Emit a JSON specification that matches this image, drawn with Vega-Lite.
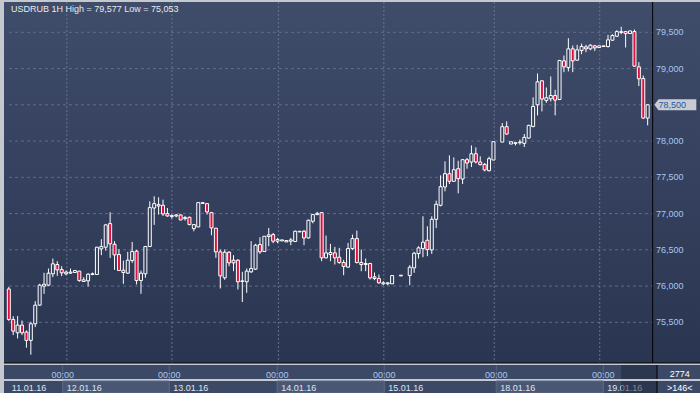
{
"$schema":"https://vega.github.io/schema/vega-lite/v6.json",
"background":"#c4c9d0",
"padding":{"left":3,"top":1,"right":0,"bottom":5},
"config":{"view":{"stroke":null},"font":"Liberation Sans","text":{"font":"Liberation Sans"}},
"datasets":{
"candles":[
{"k":0,"open":75960,"high":75990,"low":75520,"close":75540},
{"k":1,"open":75540,"high":75586,"low":75324,"close":75379},
{"k":2,"open":75356,"high":75586,"low":75278,"close":75462},
{"k":3,"open":75462,"high":75526,"low":75324,"close":75356},
{"k":4,"open":75366,"high":75389,"low":75150,"close":75251},
{"k":5,"open":75251,"high":75508,"low":75053,"close":75480},
{"k":6,"open":75480,"high":75792,"low":75434,"close":75737},
{"k":7,"open":75737,"high":76031,"low":75728,"close":76013},
{"k":8,"open":75999,"high":76183,"low":75893,"close":76026},
{"k":9,"open":76013,"high":76242,"low":75999,"close":76178},
{"k":10,"open":76169,"high":76380,"low":76123,"close":76307},
{"k":11,"open":76297,"high":76343,"low":76141,"close":76224},
{"k":12,"open":76228,"high":76274,"low":76137,"close":76183},
{"k":13,"open":76169,"high":76215,"low":76150,"close":76192},
{"k":14,"open":76178,"high":76242,"low":76169,"close":76192},
{"k":15,"open":76187,"high":76215,"low":76187,"close":76215},
{"k":16,"open":76206,"high":76206,"low":76059,"close":76077},
{"k":17,"open":76063,"high":76123,"low":76059,"close":76086},
{"k":18,"open":76072,"high":76178,"low":75994,"close":76164},
{"k":19,"open":76160,"high":76187,"low":76150,"close":76169},
{"k":20,"open":76160,"high":76540,"low":76155,"close":76536},
{"k":21,"open":76513,"high":76646,"low":76426,"close":76545},
{"k":22,"open":76536,"high":76857,"low":76490,"close":76844},
{"k":23,"open":76862,"high":77018,"low":76389,"close":76582},
{"k":24,"open":76577,"high":76619,"low":76224,"close":76430},
{"k":25,"open":76435,"high":76508,"low":76206,"close":76215},
{"k":26,"open":76219,"high":76352,"low":76031,"close":76187},
{"k":27,"open":76178,"high":76472,"low":76169,"close":76357},
{"k":28,"open":76352,"high":76609,"low":76320,"close":76476},
{"k":29,"open":76481,"high":76499,"low":76022,"close":76077},
{"k":30,"open":76077,"high":76215,"low":75893,"close":76178},
{"k":31,"open":76169,"high":76554,"low":76114,"close":76545},
{"k":32,"open":76545,"high":77169,"low":76540,"close":77082},
{"k":33,"open":77077,"high":77238,"low":76844,"close":77137},
{"k":34,"open":77105,"high":77224,"low":76986,"close":77123},
{"k":35,"open":77114,"high":77192,"low":76967,"close":76995},
{"k":36,"open":77000,"high":77077,"low":76958,"close":76967},
{"k":37,"open":76958,"high":76986,"low":76931,"close":76972},
{"k":38,"open":76967,"high":76995,"low":76949,"close":76981},
{"k":39,"open":76981,"high":76990,"low":76908,"close":76912},
{"k":40,"open":76931,"high":76967,"low":76903,"close":76944},
{"k":41,"open":76949,"high":76958,"low":76839,"close":76848},
{"k":42,"open":76793,"high":76857,"low":76756,"close":76848},
{"k":43,"open":76816,"high":77155,"low":76812,"close":77151},
{"k":44,"open":77140,"high":77151,"low":77140,"close":77151},
{"k":45,"open":77137,"high":77140,"low":76986,"close":77023},
{"k":46,"open":77013,"high":77018,"low":76701,"close":76802},
{"k":47,"open":76798,"high":76802,"low":76389,"close":76472},
{"k":48,"open":76472,"high":76504,"low":75967,"close":76141},
{"k":49,"open":76114,"high":76504,"low":76086,"close":76467},
{"k":50,"open":76467,"high":76481,"low":76274,"close":76320},
{"k":51,"open":76357,"high":76426,"low":76206,"close":76320},
{"k":52,"open":76357,"high":76371,"low":75953,"close":76059},
{"k":53,"open":76063,"high":76196,"low":75780,"close":76072},
{"k":54,"open":76059,"high":76242,"low":75907,"close":76206},
{"k":55,"open":76196,"high":76619,"low":76183,"close":76242},
{"k":56,"open":76233,"high":76582,"low":76224,"close":76564},
{"k":57,"open":76573,"high":76674,"low":76444,"close":76472},
{"k":58,"open":76476,"high":76690,"low":76472,"close":76687},
{"k":59,"open":76683,"high":76802,"low":76550,"close":76706},
{"k":60,"open":76710,"high":76733,"low":76591,"close":76619},
{"k":61,"open":76619,"high":76664,"low":76591,"close":76642},
{"k":62,"open":76623,"high":76637,"low":76623,"close":76637},
{"k":63,"open":76609,"high":76628,"low":76609,"close":76628},
{"k":64,"open":76619,"high":76664,"low":76564,"close":76637},
{"k":65,"open":76614,"high":76765,"low":76609,"close":76756},
{"k":66,"open":76747,"high":76756,"low":76747,"close":76756},
{"k":67,"open":76756,"high":76775,"low":76564,"close":76664},
{"k":68,"open":76664,"high":76917,"low":76655,"close":76908},
{"k":69,"open":76894,"high":76995,"low":76866,"close":76986},
{"k":70,"open":76986,"high":77023,"low":76977,"close":77004},
{"k":71,"open":77013,"high":77018,"low":76343,"close":76389},
{"k":72,"open":76389,"high":76697,"low":76380,"close":76458},
{"k":73,"open":76435,"high":76582,"low":76343,"close":76463},
{"k":74,"open":76458,"high":76541,"low":76297,"close":76389},
{"k":75,"open":76398,"high":76527,"low":76307,"close":76325},
{"k":76,"open":76325,"high":76362,"low":76150,"close":76270},
{"k":77,"open":76261,"high":76596,"low":76251,"close":76518},
{"k":78,"open":76518,"high":76710,"low":76499,"close":76655},
{"k":79,"open":76655,"high":76765,"low":76311,"close":76325},
{"k":80,"open":76325,"high":76504,"low":76205,"close":76297},
{"k":81,"open":76297,"high":76380,"low":76205,"close":76311},
{"k":82,"open":76311,"high":76320,"low":76090,"close":76113},
{"k":83,"open":76127,"high":76187,"low":76081,"close":76104},
{"k":84,"open":76104,"high":76159,"low":76031,"close":76045},
{"k":85,"open":76031,"high":76068,"low":76012,"close":76045},
{"k":86,"open":76031,"high":76054,"low":76012,"close":76045},
{"k":87,"open":76031,"high":76150,"low":76031,"close":76145},
{"k":89,"open":76140,"high":76150,"low":76140,"close":76150},
{"k":91,"open":76145,"high":76288,"low":76012,"close":76260},
{"k":92,"open":76251,"high":76471,"low":76182,"close":76453},
{"k":93,"open":76448,"high":76550,"low":76380,"close":76527},
{"k":94,"open":76517,"high":76963,"low":76398,"close":76605},
{"k":95,"open":76632,"high":76825,"low":76412,"close":76504},
{"k":96,"open":76499,"high":76963,"low":76444,"close":76921},
{"k":97,"open":76921,"high":77178,"low":76802,"close":77128},
{"k":98,"open":77114,"high":77527,"low":77100,"close":77371},
{"k":99,"open":77367,"high":77720,"low":77307,"close":77550},
{"k":100,"open":77550,"high":77803,"low":77408,"close":77445},
{"k":101,"open":77445,"high":77775,"low":77440,"close":77605},
{"k":102,"open":77619,"high":77729,"low":77279,"close":77481},
{"k":103,"open":77477,"high":77752,"low":77408,"close":77743},
{"k":104,"open":77743,"high":77766,"low":77619,"close":77697},
{"k":105,"open":77711,"high":77940,"low":77642,"close":77825},
{"k":106,"open":77825,"high":77913,"low":77692,"close":77711},
{"k":107,"open":77711,"high":77789,"low":77665,"close":77674},
{"k":108,"open":77679,"high":77697,"low":77582,"close":77601},
{"k":109,"open":77591,"high":77784,"low":77582,"close":77757},
{"k":110,"open":77738,"high":77995,"low":77738,"close":77991},
{"k":112,"open":77986,"high":78248,"low":77986,"close":78198},
{"k":113,"open":78198,"high":78271,"low":78087,"close":78097},
{"k":114,"open":77959,"high":77991,"low":77959,"close":77991},
{"k":115,"open":77968,"high":77977,"low":77940,"close":77977},
{"k":116,"open":77977,"high":78019,"low":77950,"close":77986},
{"k":117,"open":77968,"high":78097,"low":77918,"close":78051},
{"k":118,"open":78041,"high":78225,"low":78032,"close":78216},
{"k":119,"open":78202,"high":78602,"low":78188,"close":78478},
{"k":120,"open":78500,"high":78932,"low":78354,"close":78817},
{"k":121,"open":78831,"high":78840,"low":78409,"close":78579},
{"k":122,"open":78560,"high":78739,"low":78528,"close":78597},
{"k":123,"open":78583,"high":78891,"low":78546,"close":78629},
{"k":124,"open":78629,"high":78707,"low":78354,"close":78565},
{"k":125,"open":78574,"high":79120,"low":78565,"close":79111},
{"k":126,"open":79106,"high":79180,"low":78950,"close":79024},
{"k":127,"open":79015,"high":79419,"low":78960,"close":79272},
{"k":128,"open":79272,"high":79318,"low":78950,"close":79106},
{"k":129,"open":79116,"high":79327,"low":79106,"close":79258},
{"k":130,"open":79249,"high":79345,"low":79198,"close":79304},
{"k":131,"open":79299,"high":79327,"low":79226,"close":79272},
{"k":132,"open":79272,"high":79336,"low":79253,"close":79322},
{"k":133,"open":79313,"high":79327,"low":79244,"close":79285},
{"k":134,"open":79290,"high":79318,"low":79285,"close":79313},
{"k":135,"open":79304,"high":79313,"low":79304,"close":79313},
{"k":136,"open":79304,"high":79464,"low":79290,"close":79396},
{"k":137,"open":79391,"high":79474,"low":79382,"close":79455},
{"k":138,"open":79446,"high":79529,"low":79437,"close":79510},
{"k":139,"open":79497,"high":79577,"low":79474,"close":79510},
{"k":140,"open":79510,"high":79510,"low":79290,"close":79483},
{"k":141,"open":79483,"high":79524,"low":79478,"close":79519},
{"k":142,"open":79510,"high":79538,"low":79024,"close":79033},
{"k":143,"open":79024,"high":79088,"low":78758,"close":78859},
{"k":144,"open":78863,"high":78904,"low":78308,"close":78317},
{"k":145,"open":78317,"high":78510,"low":78216,"close":78500}
],
"levels":[{"price":75500},{"price":76000},{"price":76500},{"price":77000},{"price":77500},{"price":78000},{"price":78500},{"price":79000},{"price":79500}],
"days":[
{"day":"11.01.16","start":0.9,"end":13.18,"shade":false},
{"day":"12.01.16","start":13.18,"end":37.02,"shade":true},
{"day":"13.01.16","start":37.02,"end":61.19,"shade":false},
{"day":"14.01.16","start":61.19,"end":85.12,"shade":true},
{"day":"15.01.16","start":85.12,"end":110.18,"shade":false},
{"day":"18.01.16","start":110.18,"end":134.12,"shade":true},
{"day":"19.01.16","start":134.12,"end":146.13,"shade":false}
],
"corner":[{"caption":"USDRUB 1H High = 79,577 Low = 75,053","bars":"2774","visible":">146<"}]
},
"spacing":0,
"vconcat":[
{
"width":697,"height":361,
"view":{"fill":{"gradient":"linear","x1":0,"y1":0,"x2":0,"y2":1,"stops":[{"offset":0,"color":"#3f4c6a"},{"offset":1,"color":"#2a3551"}]},"stroke":null},
"layer":[
{"data":{"name":"levels"},"mark":{"type":"rule","color":"#5e6d8b","strokeDash":[3,3],"strokeWidth":1},
"encoding":{
"y":{"field":"price","type":"quantitative","scale":{"domain":[74939,79918],"nice":false,"zero":false},"axis":null},
"x":{"datum":0.0447,"type":"quantitative","scale":{"domain":[0.0447,155.97],"nice":false,"zero":false},"axis":null},
"x2":{"datum":146.13}}},
{"data":{"name":"days"},"transform":[{"filter":"datum.start > 1"}],"mark":{"type":"rule","color":"#64738f","strokeDash":[2,2],"strokeWidth":1},
"encoding":{"x":{"field":"start","type":"quantitative","scale":{"domain":[0.0447,155.97],"nice":false,"zero":false},"axis":null}}},
{"data":{"name":"candles"},"mark":{"type":"rule","color":"#ffffff","strokeWidth":1,"clip":true},
"encoding":{
"x":{"field":"k","type":"quantitative","scale":{"domain":[0.0447,155.97],"nice":false,"zero":false},"axis":null},
"y":{"field":"low","type":"quantitative","scale":{"domain":[74939,79918],"nice":false,"zero":false},"axis":null},
"y2":{"field":"high"}}},
{"data":{"name":"candles"},"mark":{"type":"bar","orient":"vertical","width":3,"stroke":"#ffffff","strokeWidth":1,"clip":true},
"encoding":{
"x":{"field":"k","type":"quantitative","scale":{"domain":[0.0447,155.97],"nice":false,"zero":false},"axis":null},
"y":{"field":"open","type":"quantitative","scale":{"domain":[74939,79918],"nice":false,"zero":false},"axis":null},
"y2":{"field":"close"},
"fill":{"condition":{"test":"datum.close < datum.open","value":"#e0103c"},"value":"#333f5c"}}},
{"data":{"name":"corner"},"mark":{"type":"rule","color":"#000000","strokeWidth":1},
"encoding":{"x":{"datum":146.13,"type":"quantitative","scale":{"domain":[0.0447,155.97],"nice":false,"zero":false},"axis":null}}},
{"data":{"name":"corner"},"mark":{"type":"rule","color":"#000000","strokeWidth":1},
"encoding":{"y":{"datum":74939,"type":"quantitative","scale":{"domain":[74939,79918],"nice":false,"zero":false},"axis":null}}},
{"data":{"name":"levels"},"transform":[{"filter":"datum.price != 78500"}],"mark":{"type":"text","align":"left","baseline":"middle","fontSize":9,"color":"#a9c6f0"},
"encoding":{
"x":{"datum":146.87,"type":"quantitative","scale":{"domain":[0.0447,155.97],"nice":false,"zero":false},"axis":null},
"y":{"field":"price","type":"quantitative","scale":{"domain":[74939,79918],"nice":false,"zero":false},"axis":null},
"text":{"field":"price","type":"quantitative","format":",d"}}},
{"data":{"name":"candles"},"transform":[{"filter":"datum.k == 145"}],
"mark":{"type":"point","shape":"M -1 0 L -0.8 -0.262 L 1 -0.262 L 1 0.262 L -0.8 0.262 Z","size":1764,"filled":true,"color":"#c8ccd2","opacity":1,"strokeWidth":0},
"encoding":{
"x":{"datum":151.28,"type":"quantitative","scale":{"domain":[0.0447,155.97],"nice":false,"zero":false},"axis":null},
"y":{"field":"close","type":"quantitative","scale":{"domain":[74939,79918],"nice":false,"zero":false},"axis":null}}},
{"data":{"name":"candles"},"transform":[{"filter":"datum.k == 145"}],
"mark":{"type":"text","align":"center","baseline":"middle","fontSize":9,"color":"#2556a6"},
"encoding":{
"x":{"datum":150.6,"type":"quantitative","scale":{"domain":[0.0447,155.97],"nice":false,"zero":false},"axis":null},
"y":{"field":"close","type":"quantitative","scale":{"domain":[74939,79918],"nice":false,"zero":false},"axis":null},
"text":{"field":"close","type":"quantitative","format":",d"}}},
{"data":{"name":"corner"},"mark":{"type":"text","align":"left","baseline":"alphabetic","dx":2,"dy":10,"fontSize":9,"color":"#e6ebf2"},
"encoding":{
"x":{"datum":0.0447,"type":"quantitative","scale":{"domain":[0.0447,155.97],"nice":false,"zero":false},"axis":null},
"y":{"datum":79918,"type":"quantitative","scale":{"domain":[74939,79918],"nice":false,"zero":false},"axis":null},
"text":{"field":"caption"}}}
]
},
{
"width":697,"height":14,
"view":{"fill":"#3c4966","stroke":null},
"layer":[
{"data":{"name":"days"},"transform":[{"filter":"datum.start > 1"}],"mark":{"type":"rule","color":"#56647f","strokeWidth":1},
"encoding":{"x":{"field":"start","type":"quantitative","scale":{"domain":[0.0447,155.97],"nice":false,"zero":false},"axis":null}}},
{"data":{"name":"days"},"transform":[{"filter":"datum.start > 1"}],"mark":{"type":"text","align":"center","baseline":"alphabetic","dy":5.5,"fontSize":9,"color":"#a9c6f0"},
"encoding":{"x":{"field":"start","type":"quantitative","scale":{"domain":[0.0447,155.97],"nice":false,"zero":false},"axis":null},"text":{"value":"00:00"}}},
{"data":{"name":"corner"},"mark":{"type":"rect","color":"#1c2438","opacity":0.5},
"encoding":{"x":{"datum":138.1,"type":"quantitative","scale":{"domain":[0.0447,155.97],"nice":false,"zero":false},"axis":null},"x2":{"datum":146.13}}},
{"data":{"name":"corner"},"mark":{"type":"text","align":"center","baseline":"alphabetic","dy":4.5,"fontSize":9,"color":"#ffffff"},
"encoding":{"x":{"datum":151.2,"type":"quantitative","scale":{"domain":[0.0447,155.97],"nice":false,"zero":false},"axis":null},"text":{"field":"bars"}}},
{"data":{"name":"corner"},"mark":{"type":"rule","color":"#000000","strokeWidth":1},
"encoding":{"x":{"datum":146.13,"type":"quantitative","scale":{"domain":[0.0447,155.97],"nice":false,"zero":false},"axis":null}}}
]
},
{
"width":697,"height":12,
"view":{"fill":"#3c4966","stroke":null},
"layer":[
{"data":{"name":"days"},"transform":[{"filter":"datum.shade"}],"mark":{"type":"rect","color":"#4a5774","stroke":"#5b6986","strokeWidth":1},
"encoding":{"x":{"field":"start","type":"quantitative","scale":{"domain":[0.0447,155.97],"nice":false,"zero":false},"axis":null},"x2":{"field":"end"}}},
{"data":{"name":"days"},"transform":[{"filter":"datum.start > 1"}],"mark":{"type":"rule","color":"#56647f","strokeWidth":1},
"encoding":{"x":{"field":"start","type":"quantitative","scale":{"domain":[0.0447,155.97],"nice":false,"zero":false},"axis":null}}},
{"data":{"name":"days"},"mark":{"type":"text","align":"left","baseline":"alphabetic","dx":4,"dy":4.2,"fontSize":9,"color":"#dfe5ee"},
"encoding":{"x":{"field":"start","type":"quantitative","scale":{"domain":[0.0447,155.97],"nice":false,"zero":false},"axis":null},"text":{"field":"day"}}},
{"data":{"name":"corner"},"mark":{"type":"rect","color":"#1c2438","opacity":0.5},
"encoding":{"x":{"datum":138.1,"type":"quantitative","scale":{"domain":[0.0447,155.97],"nice":false,"zero":false},"axis":null},"x2":{"datum":146.13}}},
{"data":{"name":"corner"},"mark":{"type":"text","align":"center","baseline":"alphabetic","dy":4.2,"fontSize":9,"color":"#ffffff"},
"encoding":{"x":{"datum":151.2,"type":"quantitative","scale":{"domain":[0.0447,155.97],"nice":false,"zero":false},"axis":null},"text":{"field":"visible"}}},
{"data":{"name":"corner"},"mark":{"type":"rule","color":"#000000","strokeWidth":1},
"encoding":{"x":{"datum":146.13,"type":"quantitative","scale":{"domain":[0.0447,155.97],"nice":false,"zero":false},"axis":null}}}
]
}
]
}
